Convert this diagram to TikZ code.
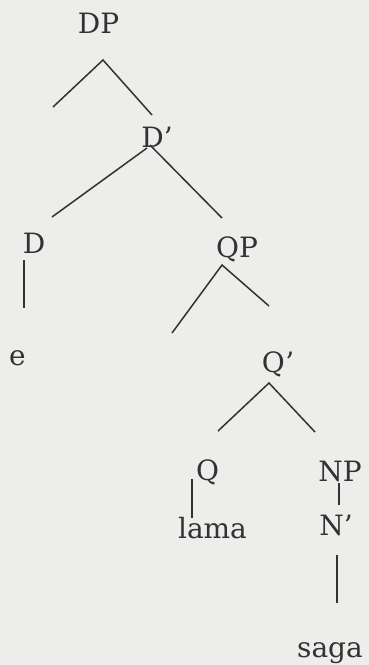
\documentclass[tikz,border=0pt]{standalone}
\usepackage{fontspec}
\setmainfont{DejaVu Serif}
\definecolor{bg}{RGB}{237,237,235}
\definecolor{ink}{RGB}{50,50,50}
\begin{document}
\begin{tikzpicture}[x=1pt,y=-1pt,
  lbl/.style={anchor=base,inner sep=0pt,text=ink,font=\fontsize{28}{30}\selectfont},
  edge/.style={draw=ink,line width=1.5pt}]
\fill[bg] (0,0) rectangle (369,665);
\useasboundingbox (0,0) rectangle (369,665);
% labels
\node[lbl] (dp)   at (98.5,33)  {DP};
\node[lbl] (dbar) at (157,147)  {D'};
\node[lbl] (d)    at (34,253)   {D};
\node[lbl] (e)    at (17.5,365) {e};
\node[lbl] (qp)   at (237,257)  {QP};
\node[lbl] (qbar) at (278,372)  {Q'};
\node[lbl] (q)    at (207.5,480) {Q};
\node[lbl] (lama) at (212.5,538) {lama};
\node[lbl] (np)   at (340,481)  {NP};
\node[lbl] (nbar) at (336,535)  {N'};
\node[lbl] (saga) at (330,657)  {saga};
% branch points
\coordinate (dpTop) at (103,60);
\coordinate (dpL)   at (53,107);
\coordinate (dpR)   at (152,115);
\coordinate (dbTopL) at (147,148);
\coordinate (dbTopR) at (150,145);
\coordinate (dbL)   at (52,217);
\coordinate (dbR)   at (222,218);
\coordinate (dTop)  at (24,260);
\coordinate (dBot)  at (24,308);
\coordinate (qpTop) at (222,265);
\coordinate (qpL)   at (172,333);
\coordinate (qpR)   at (269,306);
\coordinate (qbTop) at (269,383);
\coordinate (qbL)   at (218,431);
\coordinate (qbR)   at (315,432);
\coordinate (qTop)  at (192,479);
\coordinate (qBot)  at (192,518);
\coordinate (npTop) at (339,483);
\coordinate (npBot) at (339,505);
\coordinate (nbTop) at (337,555);
\coordinate (nbBot) at (337,603);
% branches
\draw[edge] (dpL) -- (dpTop) -- (dpR);
\draw[edge] (dbTopL) -- (dbL);
\draw[edge] (dbTopR) -- (dbR);
\draw[edge] (dTop) -- (dBot);
\draw[edge] (qpL) -- (qpTop) -- (qpR);
\draw[edge] (qbL) -- (qbTop) -- (qbR);
\draw[edge] (qTop) -- (qBot);
\draw[edge] (npTop) -- (npBot);
\draw[edge] (nbTop) -- (nbBot);
\end{tikzpicture}
\end{document}
